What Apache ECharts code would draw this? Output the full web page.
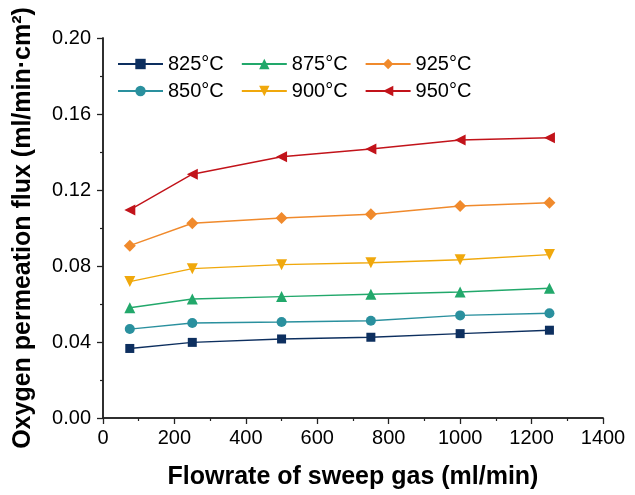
<!DOCTYPE html>
<html>
<head>
<meta charset="utf-8">
<script src="https://cdn.jsdelivr.net/npm/echarts@6/dist/echarts.min.js"></script>
<style>
  html, body { margin: 0; padding: 0; background: #fff; }
  #chart { width: 635px; height: 495px; }
</style>
</head>
<body>
<div id="chart"></div>
<script>
// flowrate of sweep gas (ml/min)
const flowrates = [75, 250, 500, 750, 1000, 1250]
// oxygen permeation flux per temperature
const temps = ['825°C', '850°C', '875°C', '900°C', '925°C', '950°C']
const flux825 = [0.0366, 0.0398, 0.0416, 0.0425, 0.0444, 0.0462]
const flux850 = [0.0468, 0.0500, 0.0505, 0.0512, 0.0540, 0.0551]
const flux875 = [0.0580, 0.0626, 0.0639, 0.0651, 0.0663, 0.0683]
const flux900 = [0.0718, 0.0786, 0.0807, 0.0817, 0.0833, 0.0860]
const flux925 = [0.0907, 0.1025, 0.1053, 0.1072, 0.1116, 0.1133]
const flux950 = [0.1095, 0.1283, 0.1375, 0.1416, 0.1463, 0.1475]

const fluxes = [flux825, flux850, flux875, flux900, flux925, flux950]
const colors = ['#0d2f5f', '#2a909e', '#22a86b', '#f0a80c', '#f08a2c', '#c2131a']
const diamond = 'path://M0,-1L1,0L0,1L-1,0Z'
const symbols = [
  { symbol: 'rect', size: 9, rotate: 0 },
  { symbol: 'circle', size: 10, rotate: 0 },
  { symbol: 'triangle', size: 11, rotate: 0 },
  { symbol: 'triangle', size: 11, rotate: 180 },
  { symbol: diamond, size: 12, rotate: 0 },
  { symbol: 'triangle', size: 11, rotate: 90 }
]

const chart = echarts.init(document.getElementById('chart'))

const series = temps.map((name, i) => {
  return {
    name: name,
    type: 'line',
    data: flowrates.map((x, j) => [x, fluxes[i][j]]),
    symbol: symbols[i].symbol,
    symbolSize: symbols[i].size,
    symbolRotate: symbols[i].rotate,
    showAllSymbol: true,
    lineStyle: { color: colors[i], width: 1.4 },
    itemStyle: { color: colors[i] },
    emphasis: { disabled: true },
    z: 3
  }
})

const legendBase = {
  left: 112,
  itemWidth: 45,
  itemHeight: 13,
  itemGap: 17,
  textStyle: { fontFamily: 'Liberation Sans', fontSize: 20, color: '#000', width: 60 },
  selectedMode: false
}

const axisFont = { fontFamily: 'Liberation Sans', fontSize: 20, color: '#000' }
const nameFont = { fontFamily: 'Liberation Sans', fontSize: 25, fontWeight: 'bold', color: '#000' }

const option = {
  backgroundColor: '#fff',
  animation: false,
  grid: { left: 103, right: 32, top: 38, bottom: 77 },
  legend: [
    Object.assign({}, legendBase, { top: 49, data: ['825°C', '875°C', '925°C'] }),
    Object.assign({}, legendBase, { top: 76, data: ['850°C', '900°C', '950°C'] })
  ],
  xAxis: [
    {
      type: 'value',
      min: 0,
      max: 1400,
      interval: 200,
      name: 'Flowrate of sweep gas (ml/min)',
      nameLocation: 'middle',
      nameGap: 47,
      nameTextStyle: nameFont,
      axisLine: { show: true, lineStyle: { color: '#222', width: 1.5 } },
      axisTick: { show: true, length: 6, lineStyle: { color: '#222', width: 1.3 } },
      minorTick: { show: true, splitNumber: 2, length: 3, lineStyle: { color: '#222', width: 1.2 } },
      axisLabel: Object.assign({
        margin: 10,
        formatter: (v) => String(v)
      }, axisFont),
      splitLine: { show: false }
    },
    {
      type: 'value',
      position: 'top',
      min: 0,
      max: 1400,
      axisLine: { show: true, lineStyle: { color: '#222', width: 1.5 } },
      axisTick: { show: false },
      axisLabel: { show: false },
      splitLine: { show: false }
    }
  ],
  yAxis: [
    {
      type: 'value',
      min: 0,
      max: 0.2,
      interval: 0.04,
      name: 'Oxygen permeation flux (ml/min·cm²)',
      nameLocation: 'middle',
      nameGap: 67,
      nameTextStyle: nameFont,
      axisLine: { show: true, lineStyle: { color: '#222', width: 1.5 } },
      axisTick: { show: true, length: 6, lineStyle: { color: '#222', width: 1.3 } },
      minorTick: { show: true, splitNumber: 2, length: 3, lineStyle: { color: '#222', width: 1.2 } },
      axisLabel: Object.assign({
        margin: 12,
        formatter: (v) => v.toFixed(2)
      }, axisFont),
      splitLine: { show: false }
    },
    {
      type: 'value',
      position: 'right',
      min: 0,
      max: 0.2,
      axisLine: { show: true, lineStyle: { color: '#222', width: 1.5 } },
      axisTick: { show: false },
      axisLabel: { show: false },
      splitLine: { show: false }
    }
  ],
  series: series
}

chart.setOption(option)
</script>
</body>
</html>
